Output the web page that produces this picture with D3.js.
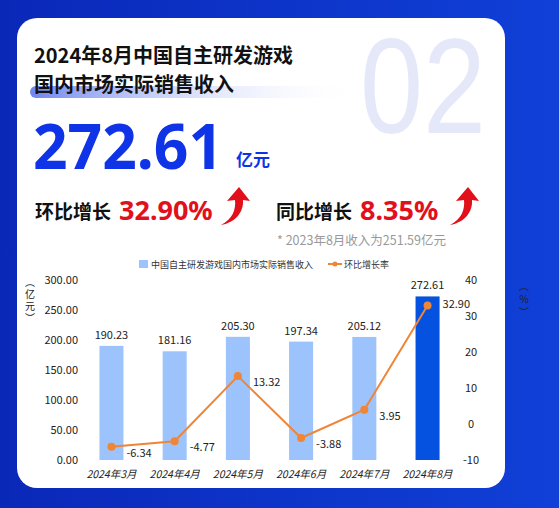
<!DOCTYPE html>
<html><head><meta charset="utf-8">
<script src="https://cdn.jsdelivr.net/npm/d3@7"></script>
<style>
body{margin:0;background:#0b2cc4;font-family:"Noto Sans CJK SC","Noto Sans",sans-serif}
</style></head>
<body><svg id="chart" width="559" height="508"></svg>
<script>
'use strict'

const months = ["2024年3月", "2024年4月", "2024年5月", "2024年6月", "2024年7月", "2024年8月"]
const revenue = [190.23, 181.16, 205.30, 197.34, 205.12, 272.61]
const momRate = [-6.34, -4.77, 13.32, -3.88, 3.95, 32.90]
const leftTicks = [0, 50, 100, 150, 200, 250, 300]
const rightTicks = [-10, 0, 10, 20, 30, 40]

const svg = d3.select('#chart')
const defs = svg.append('defs')
const bg = defs.append('linearGradient').attr('id', 'bgGrad').attr('x1', 0).attr('x2', 1)
bg.append('stop').attr('offset', 0).attr('stop-color', '#0a28b8')
bg.append('stop').attr('offset', 1).attr('stop-color', '#1040d8')
const hl = defs.append('linearGradient').attr('id', 'hlGrad').attr('x1', 0).attr('x2', 1)
hl.append('stop').attr('offset', 0).attr('stop-color', '#6f86ee')
hl.append('stop').attr('offset', 1).attr('stop-color', '#ffffff').attr('stop-opacity', 0)

svg.append('rect').attr('width', 559).attr('height', 508).attr('fill', 'url(#bgGrad)')
svg.append('rect').attr('x', 17).attr('y', 18).attr('width', 488).attr('height', 470)
  .attr('rx', 20).attr('fill', '#fff')

// header
svg.append('text').text('02').attr('x', 360).attr('y', 133)
  .attr('font-family', 'Liberation Sans').attr('font-size', 136).attr('fill', '#e5e8f8')
  .attr('textLength', 126).attr('lengthAdjust', 'spacingAndGlyphs')
svg.append('rect').attr('x', 30).attr('y', 86).attr('width', 330).attr('height', 12)
  .attr('rx', 6).attr('fill', 'url(#hlGrad)')
const t = svg.append('g').attr('font-weight', 'bold').attr('font-size', 20).attr('fill', '#111')
t.append('text').text('2024年8月中国自主研发游戏').attr('x', 34).attr('y', 63)
t.append('text').text('国内市场实际销售收入').attr('x', 34).attr('y', 92)

svg.append('text').text('272.61').attr('x', 33).attr('y', 169)
  .attr('font-family', 'Noto Sans').attr('font-weight', 'bold').attr('font-size', 62).attr('fill', '#0f33e6')
  .attr('textLength', 190).attr('lengthAdjust', 'spacingAndGlyphs')
svg.append('text').text('亿元').attr('x', 236).attr('y', 166)
  .attr('font-weight', 'bold').attr('font-size', 17).attr('fill', '#0f33e6')

function growth(x, label, val, ax) {
  svg.append('text').text(label).attr('x', x).attr('y', 219)
    .attr('font-weight', 'bold').attr('font-size', 19).attr('fill', '#111')
  svg.append('text').text(val).attr('x', x + 84).attr('y', 220)
    .attr('font-family', 'Noto Sans').attr('font-weight', 'bold').attr('font-size', 27).attr('fill', '#e2101a')
  svg.append('path').attr('fill', '#e2101a')
    .attr('d', `M${ax},225 C${ax + 12},219 ${ax + 15},209 ${ax + 14},200 L${ax + 6},201 L${ax + 18},187 L${ax + 29},201 L${ax + 22},200 C${ax + 23},213 ${ax + 13},223 ${ax},225 Z`)
}
growth(35, '环比增长', '32.90%', 221)
growth(276, '同比增长', '8.35%', 450)
svg.append('text').text('* 2023年8月收入为251.59亿元').attr('x', 277).attr('y', 245)
  .attr('font-size', 12.5).attr('fill', '#999')

// chart
const x = d3.scaleBand().domain(months).range([83, 456]).paddingInner(0.62).paddingOuter(0.26)
const yL = d3.scaleLinear().domain([0, 300]).range([460, 280])
const yR = d3.scaleLinear().domain([-10, 40]).range([460, 280])

const g = svg.append('g').attr('font-size', 11).attr('fill', '#222')
g.selectAll('.lt').data(leftTicks).enter().append('text')
  .attr('x', 78).attr('y', d => yL(d) + 4).attr('text-anchor', 'end').text(d => d.toFixed(2))
g.selectAll('.rt').data(rightTicks).enter().append('text')
  .attr('x', 471).attr('y', d => yR(d) + 4).attr('text-anchor', 'middle').text(d => d)
// vertical unit labels
;[['︵', 0], ['亿', 12], ['元', 24], ['︶', 36]].forEach(([c, dy]) =>
  g.append('text').text(c).attr('x', 30).attr('y', 286 + dy).attr('text-anchor', 'middle').attr('font-size', 10))
;[['︵', 0], ['%', 13], ['︶', 26]].forEach(([c, dy]) =>
  g.append('text').text(c).attr('x', 524).attr('y', 290 + dy).attr('text-anchor', 'middle').attr('font-size', 10))

svg.selectAll('.bar').data(revenue).enter().append('rect')
  .attr('x', (d, i) => x(months[i])).attr('width', x.bandwidth())
  .attr('y', d => yL(d)).attr('height', d => yL(0) - yL(d))
  .attr('fill', (d, i) => i === revenue.length - 1 ? '#0552e0' : '#9cc3fb')
svg.selectAll('.bl').data(revenue).enter().append('text')
  .attr('x', (d, i) => x(months[i]) + x.bandwidth() / 2).attr('y', d => yL(d) - 7)
  .attr('text-anchor', 'middle').attr('font-size', 11).attr('fill', '#222').text(d => d.toFixed(2))

const cx = i => x(months[i]) + x.bandwidth() / 2
svg.append('path').datum(momRate)
  .attr('d', d3.line().x((d, i) => cx(i)).y(d => yR(d)))
  .attr('fill', 'none').attr('stroke', '#ef8536').attr('stroke-width', 2)
svg.selectAll('.dot').data(momRate).enter().append('circle')
  .attr('cx', (d, i) => cx(i)).attr('cy', d => yR(d)).attr('r', 4).attr('fill', '#ef8536')
svg.selectAll('.ll').data(momRate).enter().append('text')
  .attr('x', (d, i) => cx(i) + 15).attr('y', (d, i) => yR(d) + (i === 5 ? 2 : 10))
  .attr('font-size', 11).attr('fill', '#222').text(d => d.toFixed(2))

svg.selectAll('.xl').data(months).enter().append('text')
  .attr('x', d => x(d) + x.bandwidth() / 2).attr('y', 478).attr('text-anchor', 'middle')
  .attr('font-size', 10.5).attr('font-style', 'italic').attr('fill', '#222').text(d => d)

// legend
const lg = svg.append('g').attr('font-size', 9).attr('fill', '#333')
lg.append('rect').attr('x', 139).attr('y', 260).attr('width', 9).attr('height', 8).attr('fill', '#9cc3fb')
lg.append('text').text('中国自主研发游戏国内市场实际销售收入').attr('x', 151).attr('y', 268)
lg.append('line').attr('x1', 328).attr('x2', 342).attr('y1', 264).attr('y2', 264)
  .attr('stroke', '#ef8536').attr('stroke-width', 2)
lg.append('circle').attr('cx', 335).attr('cy', 264).attr('r', 2.5).attr('fill', '#ef8536')
lg.append('text').text('环比增长率').attr('x', 344).attr('y', 268)
</script></body></html>
